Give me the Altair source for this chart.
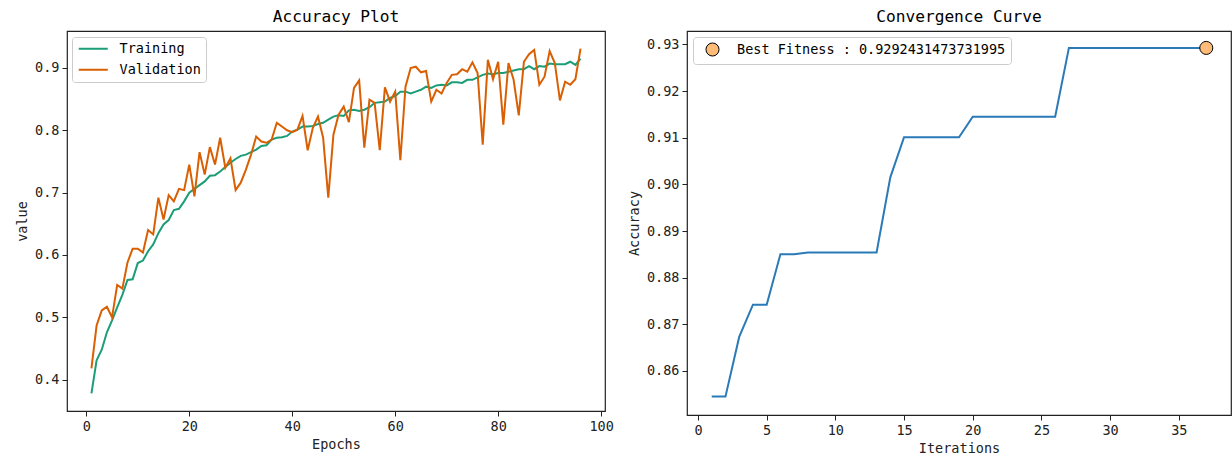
import altair as alt
import pandas as pd

FONT = "DejaVu Sans Mono"

# ---------------- data: Accuracy Plot ----------------
epochs = list(range(1, 97))
training = [
    0.378, 0.431, 0.448, 0.476, 0.495, 0.516, 0.536, 0.560, 0.561, 0.587,
    0.591, 0.606, 0.617, 0.635, 0.649, 0.656, 0.672, 0.674, 0.686, 0.700,
    0.706, 0.712, 0.718, 0.727, 0.728, 0.734, 0.741, 0.748, 0.754, 0.759,
    0.761, 0.765, 0.769, 0.775, 0.776, 0.785, 0.788, 0.789, 0.791, 0.798,
    0.801, 0.806, 0.806, 0.807, 0.810, 0.812, 0.817, 0.822, 0.824, 0.823,
    0.832, 0.833, 0.831, 0.833, 0.837, 0.844, 0.845, 0.846, 0.852, 0.855,
    0.862, 0.862, 0.859, 0.862, 0.865, 0.870, 0.868, 0.872, 0.873, 0.872,
    0.877, 0.877, 0.876, 0.881, 0.881, 0.885, 0.889, 0.891, 0.890, 0.892,
    0.892, 0.894, 0.896, 0.898, 0.898, 0.903, 0.898, 0.903, 0.902, 0.907,
    0.906, 0.906, 0.906, 0.910, 0.905, 0.915,
]
validation = [
    0.418, 0.487, 0.511, 0.517, 0.500, 0.552, 0.546, 0.588, 0.610, 0.610,
    0.604, 0.640, 0.633, 0.692, 0.657, 0.696, 0.686, 0.706, 0.704, 0.745,
    0.694, 0.765, 0.729, 0.773, 0.745, 0.788, 0.740, 0.755, 0.704, 0.716,
    0.737, 0.761, 0.790, 0.782, 0.780, 0.785, 0.812, 0.806, 0.800, 0.797,
    0.801, 0.823, 0.768, 0.804, 0.822, 0.788, 0.692, 0.793, 0.825, 0.838,
    0.813, 0.868, 0.880, 0.772, 0.849, 0.844, 0.768, 0.869, 0.846, 0.862,
    0.752, 0.870, 0.900, 0.902, 0.893, 0.895, 0.846, 0.865, 0.859, 0.876,
    0.889, 0.890, 0.898, 0.894, 0.909, 0.892, 0.777, 0.913, 0.882, 0.910,
    0.809, 0.908, 0.881, 0.824, 0.910, 0.922, 0.929, 0.873, 0.886, 0.927,
    0.908, 0.848, 0.878, 0.873, 0.882, 0.931,
]
series_names = ["Training", "Validation"]
series_colors = ["#1b9e77", "#d95f02"]
epoch_ticks = [0, 20, 40, 60, 80, 100]
value_ticks = [0.4, 0.5, 0.6, 0.7, 0.8, 0.9]

# ---------------- data: Convergence Curve ----------------
iterations = list(range(1, 38))
fitness = [
    0.8545, 0.8545, 0.8673, 0.8742, 0.8742, 0.8850, 0.8850, 0.8854, 0.8854,
    0.8854, 0.8854, 0.8854, 0.8854, 0.9015, 0.9101, 0.9101, 0.9101, 0.9101,
    0.9101, 0.9145, 0.9145, 0.9145, 0.9145, 0.9145, 0.9145, 0.9145,
    0.9292431473731995, 0.9292431473731995, 0.9292431473731995,
    0.9292431473731995, 0.9292431473731995, 0.9292431473731995,
    0.9292431473731995, 0.9292431473731995, 0.9292431473731995,
    0.9292431473731995, 0.9292431473731995,
]
best_iteration = [37]
best_value = [0.9292431473731995]
best_label = ["Best Fitness : 0.9292431473731995"]
iter_ticks = [0, 5, 10, 15, 20, 25, 30, 35]
acc_ticks = [0.86, 0.87, 0.88, 0.89, 0.90, 0.91, 0.92, 0.93]

acc_df = pd.DataFrame({
    "Epochs": epochs + epochs,
    "value": training + validation,
    "series": [series_names[0]] * len(epochs) + [series_names[1]] * len(epochs),
})
conv_df = pd.DataFrame({"Iterations": iterations, "Accuracy": fitness})
best_df = pd.DataFrame({"Iterations": best_iteration, "Accuracy": best_value, "label": best_label})

FS = 13.5


def title(text):
    return alt.TitleParams(text=text, font=FONT, fontSize=16.2, fontWeight="normal",
                           color="black", anchor="middle", offset=6)


left = alt.Chart(acc_df).mark_line(strokeWidth=2).encode(
    x=alt.X("Epochs:Q", scale=alt.Scale(domain=[-3.75, 100.75], nice=False, zero=False),
            axis=alt.Axis(values=epoch_ticks, format="d", title="Epochs")),
    y=alt.Y("value:Q", scale=alt.Scale(domain=[0.3497, 0.9593], nice=False, zero=False),
            axis=alt.Axis(values=value_ticks, format=".1f", title="value")),
    color=alt.Color("series:N", scale=alt.Scale(domain=series_names, range=series_colors),
                    legend=alt.Legend(symbolType="M-1,0L4.8,0", symbolSize=100,
                                      symbolStrokeWidth=2, labelOffset=29,
                                      rowPadding=6, legendX=5, legendY=6, orient="none",
                                      title=None, labelFont=FONT, labelFontSize=FS,
                                      labelColor="black", strokeColor="#cccccc",
                                      fillColor="white", cornerRadius=3, padding=5,
                                      labelLimit=0)),
    order=alt.Order("series:N"),
).properties(width=538, height=380, title=title("Accuracy Plot"))

line = alt.Chart(conv_df).mark_line(color="#2a7ab8", strokeWidth=2).encode(
    x=alt.X("Iterations:Q", scale=alt.Scale(domain=[-0.8, 38.8], nice=False, zero=False),
            axis=alt.Axis(values=iter_ticks, format="d", title="Iterations")),
    y=alt.Y("Accuracy:Q", scale=alt.Scale(domain=[0.85056, 0.93287], nice=False, zero=False),
            axis=alt.Axis(values=acc_ticks, format=".2f", title="Accuracy")),
)
point = alt.Chart(best_df).mark_circle(size=170, stroke="black", strokeWidth=1, opacity=1).encode(
    x="Iterations:Q",
    y="Accuracy:Q",
    fill=alt.Fill("label:N", scale=alt.Scale(range=["#ffbb78"]),
                  legend=alt.Legend(symbolType="circle", symbolSize=170, symbolStrokeColor="black",
                                    symbolStrokeWidth=1, symbolOpacity=1, symbolOffset=7,
                                    labelOffset=17, orient="none",
                                    legendX=6, legendY=6, title=None, labelFont=FONT,
                                    labelFontSize=FS, labelColor="black", labelLimit=0,
                                    strokeColor="#cccccc", fillColor="white",
                                    cornerRadius=3, padding=5)),
)
right = alt.layer(line, point).properties(width=544, height=384, title=title("Convergence Curve"))

chart = alt.hconcat(left, right, spacing=12).resolve_scale(
    color="independent", fill="independent", x="independent", y="independent"
).resolve_legend(color="independent", fill="independent").configure(
    padding={"left": 15, "top": 8, "right": 0, "bottom": 0},
    background="white",
).configure_view(
    stroke="#222222", strokeWidth=1.2,
).configure_axis(
    domain=False, grid=False, ticks=True, tickColor="#222222", tickSize=5, tickWidth=1,
    labelFont=FONT, labelFontSize=FS, labelColor="#222222", labelPadding=3,
    titleFont=FONT, titleFontSize=FS, titleFontWeight="normal", titleColor="#222222",
    titlePadding=5,
)

chart.save("out.html", embed_options={"renderer": "svg", "actions": False})
